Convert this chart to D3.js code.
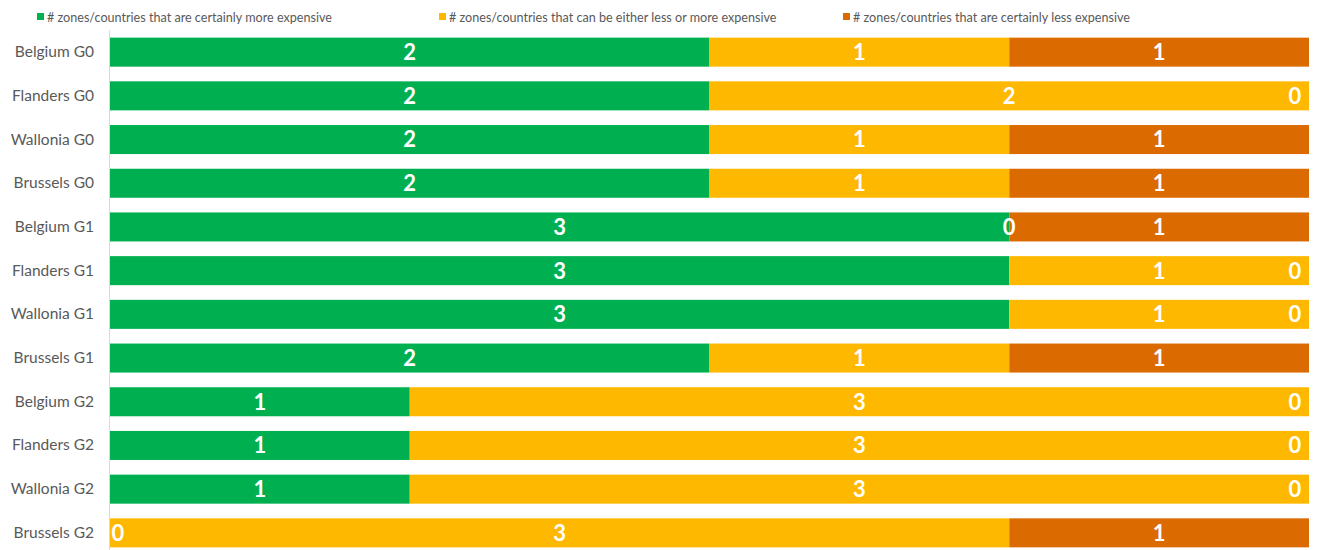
<!DOCTYPE html>
<html><head><meta charset="utf-8">
<script src="https://cdn.jsdelivr.net/npm/d3@7"></script>
<style>body{margin:0;background:#fff;} svg{display:block;}</style>
</head><body>
<svg id="chart" width="1319" height="550"></svg>
<script>
const categories = ["Belgium G0","Flanders G0","Wallonia G0","Brussels G0","Belgium G1","Flanders G1","Wallonia G1","Brussels G1","Belgium G2","Flanders G2","Wallonia G2","Brussels G2"];
const seriesNames = ["# zones/countries that are certainly more expensive","# zones/countries that can be either less or more expensive","# zones/countries that are certainly less expensive"];
const moreExpensive = [2,2,2,2,3,3,3,2,1,1,1,0];
const eitherWay     = [1,2,1,1,0,1,1,1,3,3,3,3];
const lessExpensive = [1,0,1,1,1,0,0,1,0,0,0,1];
const colors = ["#00B050","#FFB800","#DB6A00"];

const FONT = "Lato, 'Open Sans', sans-serif";
const svg = d3.select("#chart");
const plotLeft = 110, plotRight = 1309, plotTop = 30.3, plotBottom = 554.7;
const x = d3.scaleLinear().domain([0,4]).range([plotLeft,plotRight]);
const y = d3.scaleBand().domain(categories).range([plotTop,plotBottom]).paddingInner(0.336).paddingOuter(0.168);

const rows = categories.map((c,i)=>({cat:c, vals:[moreExpensive[i],eitherWay[i],lessExpensive[i]]}));
const stack = d3.stack().keys([0,1,2]).value((d,k)=>d.vals[k]);
const layers = stack(rows);

// axis line
svg.append("line").attr("x1",plotLeft-0.5).attr("x2",plotLeft-0.5).attr("y1",plotTop).attr("y2",550)
  .attr("stroke","#d9d9d9").attr("stroke-width",1);

const g = svg.append("g");
layers.forEach((layer,k)=>{
  g.selectAll(null).data(layer).enter().append("rect")
    .attr("x",d=>x(d[0])).attr("width",d=>x(d[1])-x(d[0]))
    .attr("y",d=>y(d.data.cat)).attr("height",y.bandwidth())
    .attr("fill",colors[k]);
});
layers.forEach((layer,k)=>{
  g.selectAll(null).data(layer).enter().append("text")
    .attr("x",d=>{const cx=(x(d[0])+x(d[1]))/2; return Math.max(plotLeft+8, Math.min(plotRight-14, cx));})
    .attr("y",d=>y(d.data.cat)+y.bandwidth()/2)
    .attr("dy","0.36em").attr("text-anchor","middle")
    .attr("fill","#fff").attr("font-family",FONT).attr("font-weight","bold")
    .attr("font-size","22px")
    .text(d=>d[1]-d[0]);
});

// category axis labels
const yAxis = d3.axisLeft(y).tickSize(0).tickPadding(16);
const ya = svg.append("g").attr("transform",`translate(${plotLeft},0)`).call(yAxis);
ya.select(".domain").remove();
ya.selectAll("text").attr("font-family",FONT).attr("font-size","15.5px").attr("fill","#595959");

// legend
const legendX = [37,439,843];
const lg = svg.append("g");
seriesNames.forEach((n,k)=>{
  lg.append("rect").attr("x",legendX[k]).attr("y",13).attr("width",7).attr("height",7).attr("fill",colors[k]);
  lg.append("text").attr("x",legendX[k]+10).attr("y",17.5).attr("dy","0.35em")
    .attr("font-family",FONT).attr("font-size","12.6px").attr("fill","#595959").text(n);
});
</script>
</body></html>
